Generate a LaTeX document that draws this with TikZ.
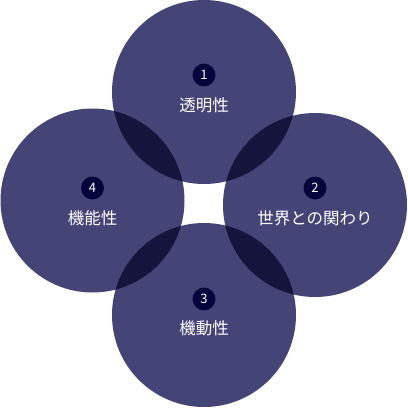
\documentclass[tikz,border=0pt]{standalone}
\usepackage{fontspec}
\setmainfont{Noto Sans CJK JP}
\usepackage{tikz}
\definecolor{ringfill}{HTML}{454477}
\definecolor{ringover}{HTML}{15143D}
\definecolor{badgefill}{HTML}{05053D}

\begin{document}
\begin{tikzpicture}[x=1pt,y=-1pt,
        badge/.style={circle,fill=badgefill,text=white,inner sep=0pt,minimum size=23pt,font=\fontsize{13}{13}\selectfont},
        label/.style={text=white,inner sep=0pt,font=\fontsize{16.5}{16.5}\selectfont}]
        \useasboundingbox (0,0) rectangle (408,408);
        \coordinate (top) at (204,92);
        \coordinate (right) at (315,205);
        \coordinate (bottom) at (204,315);
        \coordinate (left) at (92.5,200.5);
        \fill[ringfill] (top) circle (92);
        \fill[ringfill] (right) circle (92);
        \fill[ringfill] (bottom) circle (92);
        \fill[ringfill] (left) circle (92);
        \begin{scope}
            \clip (top) circle (92);
            \fill[ringover] (left) circle (92);
            \fill[ringover] (right) circle (92);
        \end{scope}
        \begin{scope}
            \clip (bottom) circle (92);
            \fill[ringover] (left) circle (92);
            \fill[ringover] (right) circle (92);
        \end{scope}
        \node[badge] (n1) at (204,75) {1};
        \node[label] (t1) at (204,105) {透明性};
        \node[badge] (n2) at (315,188) {2};
        \node[label] (t2) at (315,218) {世界との関わり};
        \node[badge] (n3) at (204,299) {3};
        \node[label] (t3) at (204,328) {機動性};
        \node[badge] (n4) at (92.5,188) {4};
        \node[label] (t4) at (92.5,218) {機能性};
    \end{tikzpicture}
\end{document}
